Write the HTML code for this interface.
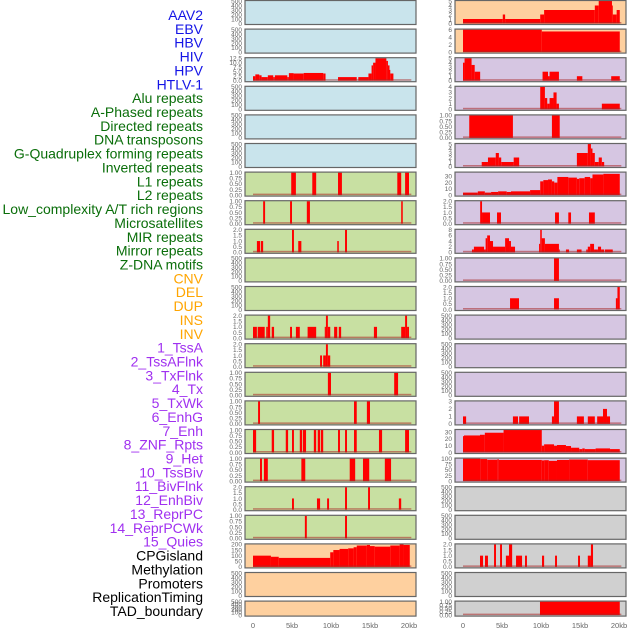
<!DOCTYPE html>
<html><head><meta charset="utf-8"><style>
html,body{margin:0;padding:0;background:#fff;width:630px;height:630px;overflow:hidden}
svg{display:block}
text{font-family:"Liberation Sans",sans-serif}
</style></head><body>
<svg id="chart" width="630" height="630" xmlns="http://www.w3.org/2000/svg"></svg>
<script>
const labels=["AAV2","EBV","HBV","HIV","HPV","HTLV-1","Alu repeats","A-Phased repeats","Directed repeats","DNA transposons","G-Quadruplex forming repeats","Inverted repeats","L1 repeats","L2 repeats","Low_complexity A/T rich regions","Microsatellites","MIR repeats","Mirror repeats","Z-DNA motifs","CNV","DEL","DUP","INS","INV","1_TssA","2_TssAFlnk","3_TxFlnk","4_Tx","5_TxWk","6_EnhG","7_Enh","8_ZNF_Rpts","9_Het","10_TssBiv","11_BivFlnk","12_EnhBiv","13_ReprPC","14_ReprPCWk","15_Quies","CPGisland","Methylation","Promoters","ReplicationTiming","TAD_boundary"];
const labelGroups=[6,13,5,15,5];
const groupColors=["#1414e6","#0a6e0a","#ffa500","#a030f0","#000000"];
const T500=["0","100","200","300","400","500"],T1=["0.00","0.25","0.50","0.75","1.00"],T2=["0.0","0.5","1.0","1.5","2.0"];
const xTickVals=[0,5,10,15,20];
const xTickLabels=["0","5kb","10kb","15kb","20kb"];
const leftMax=[500,500,12.5,500,500,500,1,1,2,500,500,2,2,1,1,1,1,2,1,200,500,500];
const leftTicks=[T500,T500,["0.0","2.5","5.0","7.5","10.0","12.5"],T500,T500,T500,T1,T1,T2,T500,T500,T2,T2,T1,T1,T1,T1,T2,T1,["0","50","100","150","200"],T500,T500];
const leftSegs=[[],[],
[[0,0.3,2.5],[0.3,0.8,3.5],[0.8,1.1,3],[1.1,1.9,2],[1.9,2.6,3],[2.6,2.8,2],[2.8,4.4,3],[4.4,4.6,2],[4.6,5.2,4.2],[5.2,6.5,4],[6.5,9,4.3],[9,9.3,4],[10.9,13.3,2],[13.5,14.8,2],[14.8,15.2,4],[15.2,15.4,8.5],[15.4,15.7,10],[15.7,17.1,12.5],[17.1,17.3,11],[17.3,17.5,8.5],[17.5,17.6,6],[17.6,18,4]],
[],[],[],
[[4.9,5.5,1],[7.6,8.1,1],[10.9,11.4,1],[18.5,19,1],[19.5,20,1]],
[[1.3,1.55,1],[4.75,5,1],[6.9,7.3,1],[19,19.2,1]],
[[0.5,0.9,1],[1.0,1.3,1],[5,5.25,2],[5.8,6.2,1],[10.8,11,1],[11.8,12.05,2]],
[],[],
[[0,0.5,1],[0.6,1.5,1],[1.7,1.9,1],[1.9,2.2,2],[2.4,2.7,1],[4.75,5,1],[5.5,6,1],[7,8.1,1],[9.2,9.35,1],[9.35,9.6,2],[9.6,9.9,1],[10.4,10.8,1],[11,11.3,1],[15.5,15.9,1],[19,19.5,1],[19.5,19.75,2],[19.75,20,1]],
[[8.6,8.85,1],[9,9.35,1],[9.35,9.6,2],[9.6,9.9,1]],
[[9.6,10,1],[18.1,18.6,1]],
[[0.65,0.9,1],[12.95,13.3,1],[14.6,15,1]],
[[0,0.4,1],[2.4,2.7,1],[4.2,4.5,1],[5,5.25,1],[6,6.3,1],[6.4,6.8,1],[7.8,8.1,1],[8.3,8.6,1],[8.7,9,1],[10.9,11.15,1],[11.8,12.05,1],[12.95,13.3,1],[16.15,16.55,1],[19.5,20,1]],
[[0.9,1.15,1],[1.4,1.9,1],[6.2,6.7,1],[12.4,13.1,1],[14.1,14.9,1],[16.9,17.7,1]],
[[5,5.25,1],[8.2,8.6,1],[9.5,9.75,1],[11.8,12.05,2],[14.75,15,2],[18.7,19,1]],
[[6.65,6.9,1],[11.8,12.05,1]],
[[0,2.3,100],[2.3,3.3,90],[3.3,9.9,80],[9.9,10.3,130],[10.3,11.1,150],[11.1,12.2,160],[12.2,12.9,165],[12.9,13.3,175],[13.3,14.6,190],[14.6,15,195],[15,15.6,185],[15.6,17.6,180],[17.6,18.8,190],[18.8,19.3,200],[19.3,20.1,195]],
[],[]];
const rightMax=[5,6,5,4,1,5,36,2,8,1,2,500,500,500,3,33,100,500,500,2,500,1];
const rightTicks=[["0","1","2","3","4","5"],["0","2","4","6"],["0","1","2","3","4","5"],["0","1","2","3","4"],T1,["0","1","2","3","4","5"],["0","10","20","30"],T2,["0","2","4","6","8"],T1,T2,T500,T500,T500,["0","1","2","3"],["0","10","20","30"],["0","25","50","75","100"],T500,T500,T2,T500,T1];
const rightSegs=[
[[0,5.1,1],[5.1,5.4,2],[5.4,9.9,1],[9.9,10.4,2],[10.4,16.9,3],[16.9,17.4,4],[17.4,19.1,5],[19.1,19.2,4],[19.2,19.7,2],[19.7,20.1,3]],
[[0,10.1,6],[10.1,20.1,5.5]],
[[0,0.2,4],[0.2,1.1,5],[1.1,1.5,3.5],[1.5,2.2,2],[10.2,10.9,2],[10.9,11.1,1],[11.1,12.3,2],[14.6,15.3,1],[19,20.1,1]],
[[9.9,10.5,4],[10.5,10.8,2],[10.8,11.1,1],[11.1,11.6,2],[11.6,12,3],[12,12.3,1],[17.8,20.1,1]],
[[0.8,6.4,1],[11.4,12.4,1]],
[[2.4,3.2,1],[3.2,4.2,2],[4.2,4.6,3],[4.6,4.9,2],[4.9,6.5,1],[6.5,7.2,2],[14.6,16,3],[16,16.4,5],[16.4,16.6,4],[16.6,16.9,3],[16.9,17.4,1],[17.4,17.8,2],[17.8,18.1,1]],
[[0,1.9,4],[1.9,2.8,6],[2.8,3.6,4],[3.6,4.5,5],[4.5,5.6,6],[5.6,6.15,5],[6.15,8.6,6],[8.6,9.9,8],[9.9,10.3,22],[10.3,10.9,24],[10.9,11.4,25],[11.4,11.7,22],[11.7,12.1,20],[12.1,13.5,29],[13.5,14.6,28],[14.6,14.9,26],[14.9,15.6,27],[15.6,16.3,29],[16.3,16.6,27],[16.6,18,33],[18,20.1,34]],
[[2.2,2.44,2],[2.44,3.46,1],[4.36,4.87,1],[11.8,12.3,1],[13.5,13.85,1],[16.15,16.9,1]],
[[1.15,1.4,1],[1.4,2.7,2],[2.7,2.9,1],[2.9,3.1,5],[3.1,3.46,6],[3.46,3.85,4],[3.85,5.4,2],[5.4,5.9,5],[5.9,6.15,4],[6.15,6.67,2],[9.75,9.9,3],[9.9,10.1,8],[10.1,10.5,5],[10.5,12.3,3],[12.3,12.4,1],[13.2,13.6,1],[14.6,15.2,1],[15.8,16.0,1],[16.0,16.3,2],[16.3,16.8,3],[16.8,17.3,1],[17.3,17.7,2],[17.7,18.1,1],[18.2,19.2,1]],
[[11.67,12.3,1]],
[[6.03,7.18,1],[11.67,12.3,1],[19.6,19.8,1],[19.8,20.1,2]],
[],[],[],
[[0,0.4,1],[6.4,7.05,1],[7.2,8.46,1],[11.4,11.67,1],[11.67,12.3,3],[14.6,15.5,1],[16,16.9,1],[17.2,17.95,1],[17.95,18.46,2],[18.46,18.85,1]],
[[0,0.13,24],[0.13,2.18,25],[2.18,2.8,26],[2.8,5.2,29],[5.2,10.1,33],[10.1,10.4,10],[10.4,11.67,12],[11.67,12.05,10],[12.05,13.2,11],[13.2,13.85,9.5],[13.85,14.9,7],[14.9,15.3,5],[15.3,15.6,6],[15.6,17,5],[17,18.85,6],[18.85,20.1,5]],
[[0,2.2,100],[2.2,3.1,98],[3.1,4.4,95],[4.4,4.6,97],[4.6,10.1,94],[10.1,10.4,92],[10.4,11.0,93],[11.0,12.05,90],[12.05,13.6,94],[13.6,16.0,96],[16.0,20.1,93]],
[],[],
[[2.18,2.57,1],[2.82,3.2,1],[3.98,4.23,2],[4.75,5,2],[5.5,5.9,1],[5.9,6.3,2],[6.8,7.57,1],[7.95,8.2,1],[10.13,10.4,1],[11.8,12.05,1],[14.75,15,1],[16,16.4,1],[16.4,16.67,2]],
[],
[[9.87,20.1,1]]];
const leftBg=["#c9e4ec","#c9e4ec","#c9e4ec","#c9e4ec","#c9e4ec","#c9e4ec","#c8e0a2","#c8e0a2","#c8e0a2","#c8e0a2","#c8e0a2","#c8e0a2","#c8e0a2","#c8e0a2","#c8e0a2","#c8e0a2","#c8e0a2","#c8e0a2","#c8e0a2","#fed09f","#fed09f","#fed09f"];
const rightBg=["#fed09f","#fed09f","#d6c6e2","#d6c6e2","#d6c6e2","#d6c6e2","#d6c6e2","#d6c6e2","#d6c6e2","#d6c6e2","#d6c6e2","#d6c6e2","#d6c6e2","#d6c6e2","#d6c6e2","#d6c6e2","#d6c6e2","#d0d0d0","#d0d0d0","#d0d0d0","#d0d0d0","#d0d0d0"];

const NS="http://www.w3.org/2000/svg";
const svg=document.getElementById('chart');
function mk(tag,attrs,parent){const e=document.createElementNS(NS,tag);for(const k in attrs)e.setAttribute(k,attrs[k]);(parent||svg).appendChild(e);return e;}
const KB=7.8;
function rowTop(i){return i*28.6+0.5;}
function rowH(i){return i===21?15:24;}

let li=0;
labelGroups.forEach((n,g)=>{for(let k=0;k<n;k++){const t=mk('text',{x:203,y:15+li*13.86+5,'text-anchor':'end','font-size':'14',fill:groupColors[g]});


t.textContent=labels[li];li++;}});

function panel(side,i,x0,bg,segs,ymax,ticks){
  const g=mk('g',{});
  
  
  const top=rowTop(i),h=rowH(i),w=171;
  mk('rect',{x:x0,y:top,width:w,height:h,fill:bg},g);
  const base=top+h-1;
  const ys=v=>base-(v/ymax)*(h-1.5);
  const xs=kb=>x0+8+kb*KB;
  segs.forEach(s=>{const r=mk('rect',{x:xs(s[0]),y:ys(s[2]),width:Math.max(0.8,(s[1]-s[0])*KB),height:base-ys(s[2]),fill:'#ff0000'},g);
    
    });
  if(segs.length){mk('rect',{x:xs(0),y:base-1.5,width:20.3*KB,height:1.5,fill:'rgba(170,40,40,0.55)'},g);}
  mk('rect',{x:x0,y:top,width:w,height:h,fill:'none',stroke:'#666','stroke-width':'1.2'},g);
  ticks.forEach(lb=>{const v=parseFloat(lb);const t=mk('text',{x:x0-3,y:ys(v)+2.3,'text-anchor':'end','font-size':'6.5',fill:'#666'},g);
    
    
    t.textContent=lb;});
}
for(let i=0;i<22;i++){
  panel('left',i,245,leftBg[i],leftSegs[i],leftMax[i],leftTicks[i]);
  panel('right',i,455,rightBg[i],rightSegs[i],rightMax[i],rightTicks[i]);
}
[253,463].forEach(x0=>{xTickVals.forEach((v,k)=>{const t=mk('text',{x:x0+v*KB,y:628,'text-anchor':'middle','font-size':'7.5',fill:'#666'});
  
  
  t.textContent=xTickLabels[k];});});
</script>
</body></html>
